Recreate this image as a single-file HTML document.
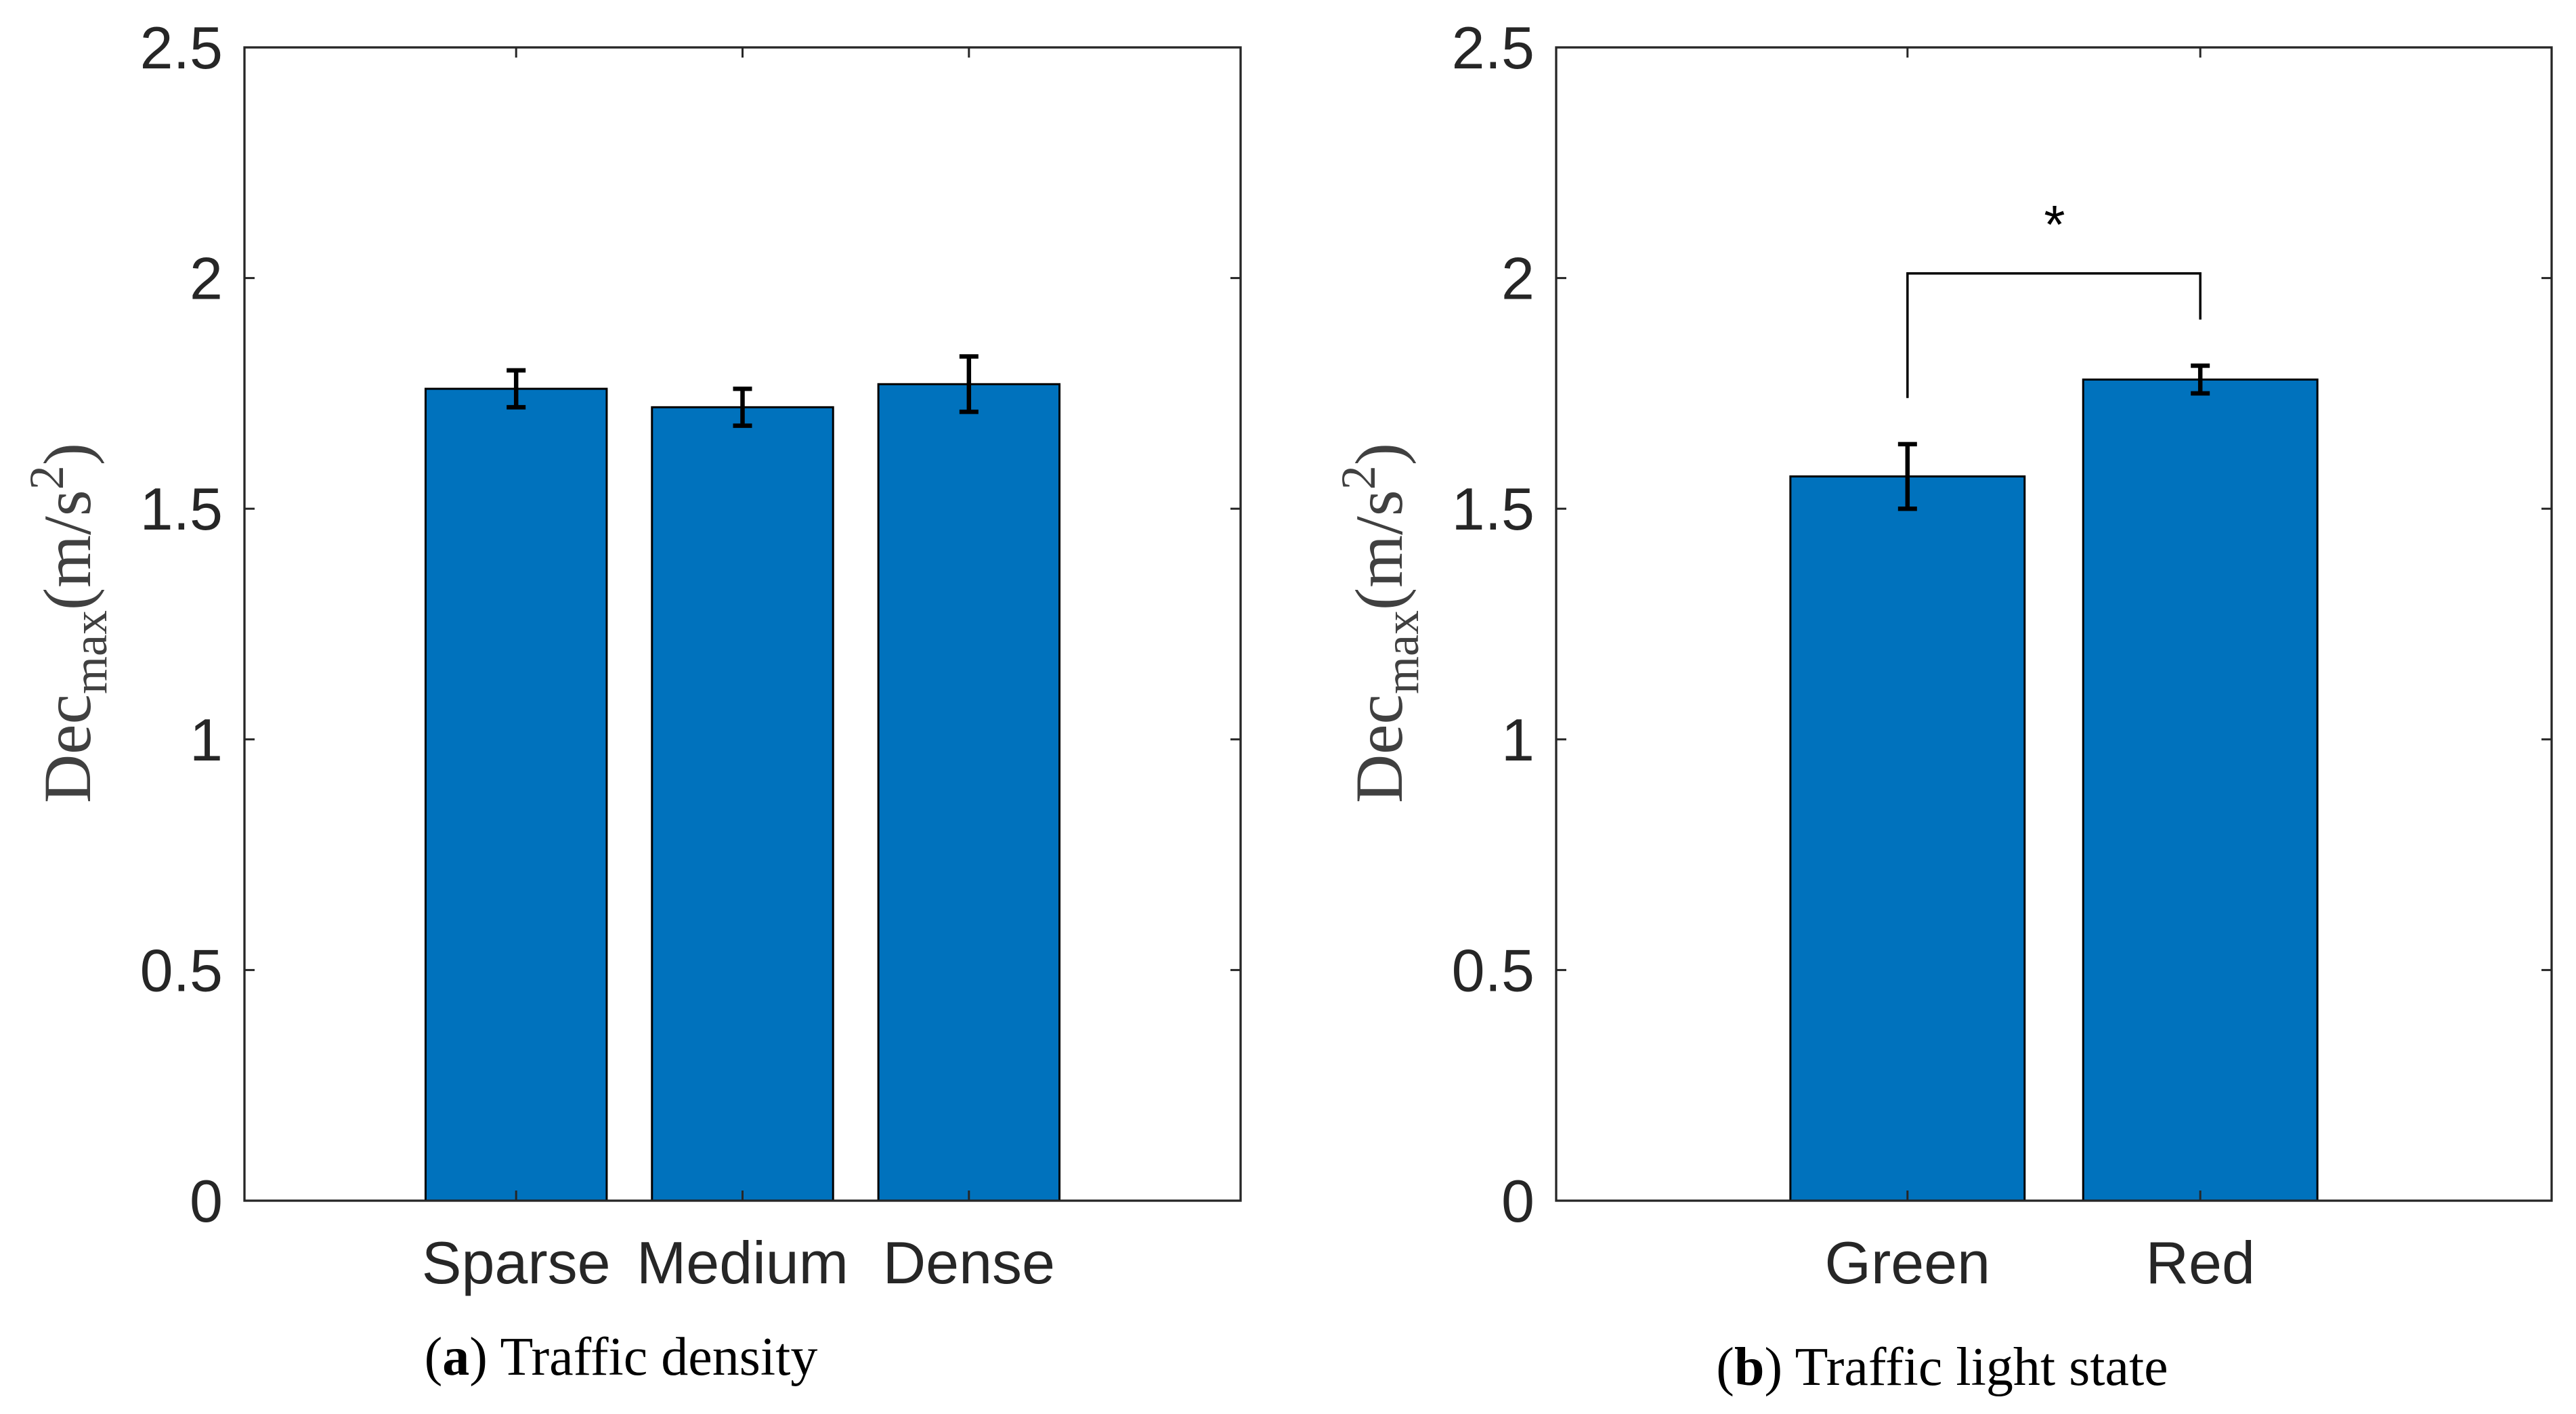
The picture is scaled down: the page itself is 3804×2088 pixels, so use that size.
<!DOCTYPE html>
<html><head><meta charset="utf-8"><style>
html,body{margin:0;padding:0;background:#fff;}
svg{display:block;}
</style></head><body>
<svg id="fig" width="3804" height="2088" viewBox="0 0 3804 2088" xmlns="http://www.w3.org/2000/svg">
<rect width="3804" height="2088" fill="#fff"/>
<g id="panelA"></g>
<g id="panelB"></g>
<text x="917" y="2030" font-family="Liberation Serif, serif" font-size="80" fill="#000" text-anchor="middle">(<tspan font-weight="bold">a</tspan>) Traffic density</text>
<text x="2868" y="2045" font-family="Liberation Serif, serif" font-size="80" fill="#000" text-anchor="middle">(<tspan font-weight="bold">b</tspan>) Traffic light state</text>
</svg>
<script>
const NS = 'http://www.w3.org/2000/svg';
// Panel A data
const catsA = ['Sparse', 'Medium', 'Dense'];
const valsA = [1.76, 1.72, 1.77];
const errsA = [0.04, 0.04, 0.06];
// Panel B data
const catsB = ['Green', 'Red'];
const valsB = [1.57, 1.78];
const errsB = [0.07, 0.03];
// significance bracket (data units)
const sigTop = [2.01];
const sigLegBottom = [1.74, 1.91];
const yTicks = [0, 0.5, 1, 1.5, 2, 2.5];
const yTickLabels = ['0', '0.5', '1', '1.5', '2', '2.5'];

function el(tag, attrs, parent) {
  const e = document.createElementNS(NS, tag);
  for (const k in attrs) e.setAttribute(k, attrs[k]);
  parent.appendChild(e);
  return e;
}

function drawPanel(g, box, cats, vals, errs, sig) {
  const n = cats.length;
  const xmin = -0.2, xmax = n + 1.2, ymin = 0, ymax = 2.5;
  const xs = v => box.x0 + (v - xmin) / (xmax - xmin) * (box.x1 - box.x0);
  const ys = v => box.y1 - (v - ymin) / (ymax - ymin) * (box.y1 - box.y0);
  const axisColor = '#262626';
  for (let i = 0; i < n; i++) {
    const c = i + 1;
    const r = el('rect', {x: xs(c - 0.4), y: ys(vals[i]), width: xs(c + 0.4) - xs(c - 0.4), height: ys(0) - ys(vals[i]), fill: '#0072BD', stroke: '#000', 'stroke-width': 3}, g);
    
    
  }
  for (let i = 0; i < n; i++) {
    const c = i + 1, cx = xs(c);
    const eg = el('g', {stroke: '#000', 'stroke-width': 6.5, fill: 'none'}, g);
    
    
    el('line', {x1: cx, x2: cx, y1: ys(vals[i] + errs[i]), y2: ys(vals[i] - errs[i])}, eg);
    el('line', {x1: cx - 14, x2: cx + 14, y1: ys(vals[i] + errs[i]), y2: ys(vals[i] + errs[i])}, eg);
    el('line', {x1: cx - 14, x2: cx + 14, y1: ys(vals[i] - errs[i]), y2: ys(vals[i] - errs[i])}, eg);
  }
  if (sig) {
    const sg = el('g', {stroke: '#000', 'stroke-width': 3.5, fill: 'none'}, g);
    
    
    el('polyline', {points: `${xs(1)},${ys(sigLegBottom[0])} ${xs(1)},${ys(sigTop[0])} ${xs(2)},${ys(sigTop[0])} ${xs(2)},${ys(sigLegBottom[1])}`}, sg);
    const st = el('text', {x: (xs(1) + xs(2)) / 2 + 1, y: ys(sigTop[0]) - 45, 'font-family': 'Liberation Sans, sans-serif', 'font-size': 80, fill: '#000', 'text-anchor': 'middle'}, g);
    st.textContent = '*';
    
    
  }
  const frame = el('rect', {x: box.x0, y: box.y0, width: box.x1 - box.x0, height: box.y1 - box.y0, fill: 'none', stroke: axisColor, 'stroke-width': 3.3}, g);
  
  
  const tl = 15;
  for (let i = 0; i < yTicks.length; i++) {
    const y = ys(yTicks[i]);
    el('line', {x1: box.x0, x2: box.x0 + tl, y1: y, y2: y, stroke: axisColor, 'stroke-width': 3}, g);
    el('line', {x1: box.x1, x2: box.x1 - tl, y1: y, y2: y, stroke: axisColor, 'stroke-width': 3}, g);
    const t = el('text', {x: box.x0 - 32, y: y + 31, 'font-family': 'Liberation Sans, sans-serif', 'font-size': 88, fill: axisColor, 'text-anchor': 'end'}, g);
    t.textContent = yTickLabels[i];
    
    
  }
  for (let i = 0; i < n; i++) {
    const x = xs(i + 1);
    el('line', {x1: x, x2: x, y1: box.y1, y2: box.y1 - tl, stroke: axisColor, 'stroke-width': 3}, g);
    el('line', {x1: x, x2: x, y1: box.y0, y2: box.y0 + tl, stroke: axisColor, 'stroke-width': 3}, g);
    const t = el('text', {x: x, y: 1895, 'font-family': 'Liberation Sans, sans-serif', 'font-size': 88, fill: axisColor, 'text-anchor': 'middle'}, g);
    t.textContent = cats[i];
    
    
  }
  const lx = box.x0 - 228, ly = 920;
  const yl = el('text', {x: lx, y: ly, transform: `rotate(-90 ${lx} ${ly})`, 'font-family': 'Liberation Serif, serif', 'font-size': 100, fill: '#404040', 'text-anchor': 'middle'}, g);
  
  
  yl.innerHTML = 'Dec<tspan font-size="72" dy="24">max</tspan><tspan dy="-24">(m/s</tspan><tspan font-size="72" dy="-40">2</tspan><tspan dy="40">)</tspan>';
}

drawPanel(document.getElementById('panelA'), {x0: 361, x1: 1832, y0: 70, y1: 1773}, catsA, valsA, errsA, false);
drawPanel(document.getElementById('panelB'), {x0: 2298, x1: 3768, y0: 70, y1: 1773}, catsB, valsB, errsB, true);
</script>
</body></html>
